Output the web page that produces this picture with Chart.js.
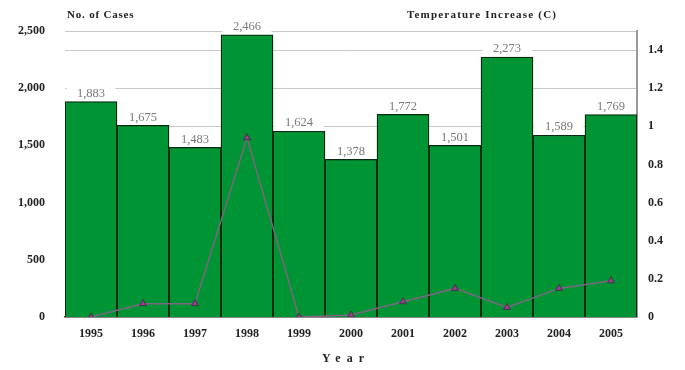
<!DOCTYPE html>
<html>
<head>
<meta charset="utf-8">
<script src="https://cdn.jsdelivr.net/npm/chart.js@4/dist/chart.umd.min.js"></script>
<style>
  html, body { margin: 0; padding: 0; background: #fff; }
  #wrap { width: 685px; height: 370px; position: relative; }
</style>
</head>
<body>
<div id="wrap"><canvas id="c" width="685" height="370"></canvas></div>
<script>
// Years on the category axis
const years = ['1995','1996','1997','1998','1999','2000','2001','2002','2003','2004','2005'];
// Number of cases per year (bars, left axis)
const cases = [1883, 1675, 1483, 2466, 1624, 1378, 1772, 1501, 2273, 1589, 1769];
// Temperature increase in degrees C (line, right axis)
const tempIncrease = [0.0, 0.07, 0.07, 0.94, 0.0, 0.01, 0.08, 0.15, 0.05, 0.15, 0.19];
// Axis titles
const leftTitle = 'No. of Cases';
const rightTitle = 'Temperature Increase (C)';
const xTitle = 'Year';

const SERIF = '"Liberation Serif", "DejaVu Serif", serif';

// Value labels in white boxes sitting on top of each bar
const barLabels = {
  id: 'barLabels',
  afterDatasetsDraw(chart) {
    const meta = chart.getDatasetMeta(0);
    const ctx = chart.ctx;
    ctx.save();
    ctx.font = '12.5px ' + SERIF;
    ctx.textAlign = 'center';
    ctx.textBaseline = 'middle';
    meta.data.forEach((bar, i) => {
      const w = bar.width;
      const h = 16;
      ctx.fillStyle = '#ffffff';
      ctx.fillRect(bar.x - w / 2 + 1.5, bar.y - h, w - 3, h - 1);
      ctx.fillStyle = '#7a7a7a';
      ctx.fillText(cases[i].toLocaleString('en-US'), bar.x, bar.y - 8);
    });
    ctx.restore();
  }
};

// Axis titles drawn around the plot area
const axisTitles = {
  id: 'axisTitles',
  afterDraw(chart) {
    const ctx = chart.ctx;
    const a = chart.chartArea;
    ctx.save();
    ctx.fillStyle = '#222';
    ctx.textBaseline = 'middle';
    ctx.font = 'bold 11px ' + SERIF;
    ctx.letterSpacing = '0.8px';
    ctx.textAlign = 'left';
    ctx.fillText(leftTitle, a.left + 2, 15);
    ctx.letterSpacing = '1.2px';
    ctx.fillText(rightTitle, 407, 15);
    ctx.font = 'bold 12px ' + SERIF;
    ctx.letterSpacing = '6px';
    ctx.fillText(xTitle, 322, 359);
    ctx.restore();
  }
};

new Chart(document.getElementById('c'), {
  data: {
    labels: years,
    datasets: [
      {
        type: 'bar',
        label: leftTitle,
        data: cases,
        yAxisID: 'y',
        backgroundColor: '#009434',
        borderColor: '#07290c',
        borderWidth: 1.3,
        categoryPercentage: 1.0,
        barPercentage: 1.0,
        order: 2
      },
      {
        type: 'line',
        label: rightTitle,
        data: tempIncrease,
        yAxisID: 'y2',
        borderColor: '#7e6680',
        borderWidth: 1.5,
        tension: 0,
        pointStyle: 'triangle',
        pointRadius: 4,
        pointBackgroundColor: '#9a3a9a',
        pointBorderColor: '#3a3a3a',
        pointBorderWidth: 1,
        order: 1
      }
    ]
  },
  options: {
    responsive: false,
    animation: false,
    devicePixelRatio: 1,
    layout: { padding: { top: 31, left: 0, right: 0, bottom: 0 } },
    plugins: {
      legend: { display: false },
      tooltip: { enabled: false }
    },
    scales: {
      x: {
        grid: { display: false, drawTicks: false },
        border: { display: true, color: '#444', width: 1.5 },
        ticks: {
          padding: 10,
          color: '#222',
          font: { family: SERIF, size: 12, weight: 'bold' },
          maxRotation: 0
        },
        afterFit(scale) { scale.height = 53; }
      },
      y: {
        position: 'left',
        min: 0,
        max: 2500,
        grid: { display: false, drawTicks: false },
        border: { display: false },
        ticks: {
          stepSize: 500,
          padding: 20,
          color: '#222',
          font: { family: SERIF, size: 12, weight: 'bold' },
          callback: v => Number(v).toLocaleString('en-US')
        },
        afterFit(scale) { scale.width = 65; }
      },
      y2: {
        position: 'right',
        min: 0,
        max: 1.5,
        grid: { display: true, drawTicks: false, color: '#c8c8c8', lineWidth: 1 },
        border: { display: true, color: '#999', width: 2 },
        ticks: {
          stepSize: 0.2,
          padding: 11,
          color: '#222',
          font: { family: SERIF, size: 12, weight: 'bold' },
          callback: v => (Math.abs(v - 1.5) < 1e-9 ? '' : String(+Number(v).toFixed(1)))
        },
        afterFit(scale) { scale.width = 48; }
      }
    }
  },
  plugins: [barLabels, axisTitles]
});
</script>
</body>
</html>
